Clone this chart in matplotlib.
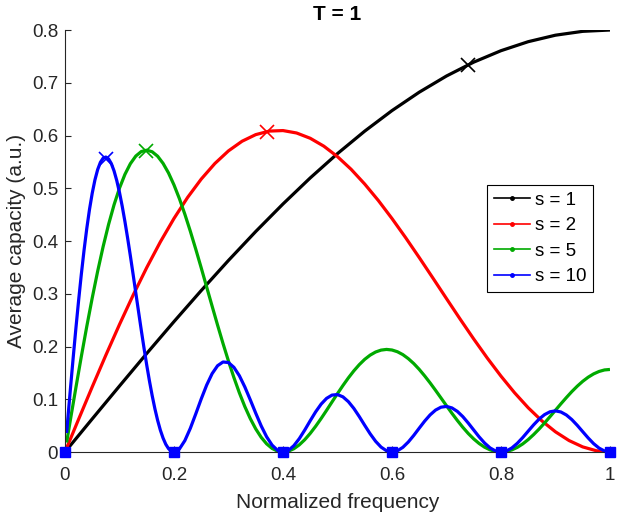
import matplotlib.pyplot as plt
from matplotlib.lines import Line2D
from matplotlib.ticker import FuncFormatter

plt.rcParams['font.family'] = ['Liberation Sans', 'DejaVu Sans']

# Data
f_s1 = [0.00, 0.05, 0.10, 0.15, 0.20, 0.25, 0.30, 0.35, 0.40, 0.45, 0.50,
        0.55, 0.60, 0.65, 0.70, 0.75, 0.80, 0.85, 0.90, 0.95, 1.00]
c_s1 = [0.0, 0.0628, 0.1251, 0.1868, 0.2472, 0.3061, 0.3632, 0.4180, 0.4702,
        0.5196, 0.5657, 0.6083, 0.6472, 0.6821, 0.7128, 0.7391, 0.7608,
        0.7779, 0.7902, 0.7975, 0.8000]

f_s2 = [i * 0.025 for i in range(41)]
c_s2 = [0.0, 0.0621, 0.1235, 0.1836, 0.2417, 0.2973, 0.3496, 0.3983, 0.4427,
        0.4826, 0.5174, 0.5469, 0.5709, 0.5892, 0.6017, 0.6084, 0.6094,
        0.6048, 0.5948, 0.5798, 0.5600, 0.5360, 0.5080, 0.4768, 0.4427,
        0.4065, 0.3687, 0.3300, 0.2909, 0.2521, 0.2143, 0.1780, 0.1439,
        0.1123, 0.0839, 0.0591, 0.0383, 0.0217, 0.0097, 0.0024, 0.0]

f_s5 = [0.003] + [k * 0.01 for k in range(1, 101)]
c_s5 = [0.018,
        0.0613, 0.1219, 0.1811, 0.2380, 0.2921, 0.3428, 0.3894, 0.4314, 0.4685, 0.5002,
        0.5263, 0.5466, 0.5611, 0.5696, 0.5722, 0.5692, 0.5608, 0.5472, 0.5290, 0.5064,
        0.4802, 0.4507, 0.4186, 0.3845, 0.3491, 0.3128, 0.2765, 0.2406, 0.2057, 0.1724,
        0.1411, 0.1122, 0.0862, 0.0634, 0.0439, 0.0279, 0.0155, 0.0068, 0.0017, 0.0,
        0.0016, 0.0062, 0.0136, 0.0234, 0.0353, 0.0488, 0.0635, 0.0790, 0.0949, 0.1107,
        0.1260, 0.1405, 0.1538, 0.1656, 0.1757, 0.1837, 0.1896, 0.1932, 0.1945, 0.1934,
        0.1901, 0.1846, 0.1770, 0.1677, 0.1567, 0.1443, 0.1310, 0.1169, 0.1024, 0.0878,
        0.0735, 0.0598, 0.0469, 0.0351, 0.0248, 0.0161, 0.0091, 0.0041, 0.0010, 0.0,
        0.0010, 0.0040, 0.0088, 0.0154, 0.0236, 0.0331, 0.0436, 0.0550, 0.0670, 0.0792,
        0.0914, 0.1032, 0.1145, 0.1248, 0.1340, 0.1418, 0.1481, 0.1527, 0.1556, 0.1565]

# s = 10: finer steps over the main lobe, then 0.01 steps
f_s10 = ([0.003] + [0.005 * m for m in range(1, 40)]
         + [k * 0.01 for k in range(20, 101)])
c_s10 = [0.036,
         0.0604, 0.1200, 0.1781, 0.2341, 0.2872, 0.3369, 0.3826, 0.4237, 0.4599, 0.4907,
         0.5160, 0.5355, 0.5492, 0.5571, 0.5592, 0.5557, 0.5469, 0.5331, 0.5147, 0.4922,
         0.4661, 0.4369, 0.4052, 0.3717, 0.3369, 0.3014, 0.2660, 0.2310, 0.1972, 0.1649,
         0.1347, 0.1070, 0.0820, 0.0601, 0.0415, 0.0264, 0.0146, 0.0064, 0.0016,
         0.0,
         0.0058, 0.0217, 0.0449, 0.0723, 0.1006, 0.1269, 0.1486, 0.1636, 0.1707, 0.1696,
         0.1605, 0.1446, 0.1234, 0.0990, 0.0737, 0.0496, 0.0289, 0.0131, 0.0033, 0.0,
         0.0031, 0.0120, 0.0254, 0.0417, 0.0593, 0.0762, 0.0908, 0.1017, 0.1079, 0.1089,
         0.1046, 0.0955, 0.0827, 0.0672, 0.0506, 0.0345, 0.0203, 0.0093, 0.0024, 0.0,
         0.0023, 0.0089, 0.0190, 0.0315, 0.0452, 0.0586, 0.0704, 0.0795, 0.0850, 0.0864,
         0.0836, 0.0770, 0.0671, 0.0549, 0.0417, 0.0286, 0.0170, 0.0078, 0.0020, 0.0,
         0.0020, 0.0077, 0.0165, 0.0275, 0.0396, 0.0516, 0.0624, 0.0709, 0.0763, 0.0780,
         0.0759, 0.0702, 0.0615, 0.0506, 0.0386, 0.0267, 0.0159, 0.0074, 0.0019, 0.0]

# cross markers
x_marks = [0.74, 0.37, 0.148, 0.075]
y_marks = [0.734, 0.607, 0.571, 0.556]

# zeros of s = 10
f_zeros = [0.0, 0.2, 0.4, 0.6, 0.8, 1.0]
c_zeros = [0, 0, 0, 0, 0, 0]

labels = ['s = 1', 's = 2', 's = 5', 's = 10']
colors = ['black', '#ff0000', '#00aa00', '#0000ff']

fig = plt.figure(figsize=(6.2, 5.15), dpi=100)
ax = fig.add_axes([0.1048, 0.1223, 0.879, 0.8194])

series = [(f_s1, c_s1), (f_s2, c_s2), (f_s5, c_s5), (f_s10, c_s10)]
for (fx, cy), col in zip(series, colors):
    ax.plot(fx, cy, color=col, lw=2.3, solid_capstyle='butt')

for xm, ym, col in zip(x_marks, y_marks, colors):
    ax.plot([xm], [ym], marker='x', color=col, ms=10, mew=1.2, ls='none')

ax.plot(f_zeros, c_zeros, 's', color='#0000ff', ms=7.5, clip_on=False, zorder=5)

ax.set_xlim(0, 1)
ax.set_ylim(0, 0.8)
ax.set_xticks([0, 0.2, 0.4, 0.6, 0.8, 1])
ax.set_yticks([0, 0.1, 0.2, 0.3, 0.4, 0.5, 0.6, 0.7, 0.8])
fmt = FuncFormatter(lambda v, p: '%g' % round(v, 2))
ax.xaxis.set_major_formatter(fmt)
ax.yaxis.set_major_formatter(fmt)
ax.tick_params(direction='in', length=4, width=0.8, labelsize=13.5,
               colors='#262626')
ax.tick_params(axis='x', pad=11)
ax.tick_params(axis='y', pad=5)
for side in ['top', 'right']:
    ax.spines[side].set_visible(False)
for side in ['left', 'bottom']:
    ax.spines[side].set_color('#262626')
    ax.spines[side].set_linewidth(0.8)

ax.set_xlabel('Normalized frequency', fontsize=15, color='#262626', labelpad=6)
ax.set_ylabel('Average capacity (a.u.)', fontsize=15, color='#262626', labelpad=4)
ax.set_title('T = 1', fontsize=15, fontweight='bold', pad=7)

handles = [Line2D([], [], color=c, lw=1.2, marker='.', ms=5) for c in colors]
leg = ax.legend(handles, labels, loc='upper right', bbox_to_anchor=(0.969, 0.633),
                borderaxespad=0, fancybox=False, edgecolor='black', framealpha=1,
                fontsize=13.5, handlelength=1.95, handletextpad=0.25,
                labelspacing=0.45, borderpad=0.35)
leg.get_frame().set_linewidth(0.8)

plt.savefig('out.png', dpi=100)
